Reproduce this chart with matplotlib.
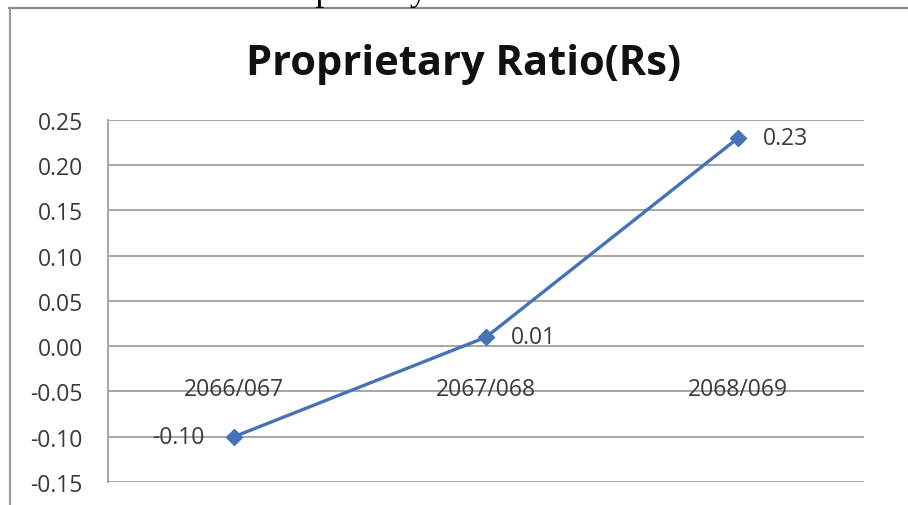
import matplotlib
matplotlib.use("Agg")
import matplotlib.pyplot as plt
from matplotlib.lines import Line2D

# Proprietary ratio by fiscal year
years  = ["2066/067", "2067/068", "2068/069"]
ratio  = [-0.10, 0.01, 0.23]
yticks = [-0.15, -0.10, -0.05, 0.00, 0.05, 0.10, 0.15, 0.20, 0.25]

BLUE  = "#4673b5"
GRID  = "#a6a6a6"
TEXT  = "#3a3a3a"
FONT  = "Open Sans"

fig = plt.figure(figsize=(9.08, 5.06), dpi=100)
ax = fig.add_axes([0.1189, 0.0455, 0.8326, 0.7154])

x = list(range(len(years)))
ax.plot(x, ratio, color=BLUE, lw=2.4, marker="D", ms=8.5,
        markerfacecolor=BLUE, markeredgecolor=BLUE, zorder=3)

ax.set_xlim(-0.5, len(years) - 0.5)
ax.set_ylim(yticks[0], yticks[-1])
ax.set_yticks(yticks)
ax.set_yticklabels([f"{v:.2f}" for v in yticks], fontsize=16.5,
                   family=FONT, color=TEXT)
ax.set_xticks([])
ax.tick_params(axis="y", length=0, pad=18)
ax.grid(axis="y", color=GRID, lw=1.4)
ax.set_axisbelow(True)
for side in ["top", "right", "bottom"]:
    ax.spines[side].set_visible(False)
ax.spines["left"].set_color(GRID)
ax.spines["left"].set_linewidth(1.4)

# category labels sit below the zero line, crossing the -0.05 gridline
for xi, lab in zip(x, years):
    ax.annotate(lab, xy=(xi, 0), xytext=(0, -31), textcoords="offset points",
                ha="center", va="center", fontsize=16.5, family=FONT,
                color=TEXT)

# value labels
for xi, v in zip(x, ratio):
    if v < 0:
        off, ha = -21, "right"
    else:
        off, ha = 18, "left"
    ax.annotate(f"{v:.2f}", xy=(xi, v), xytext=(off, 0),
                textcoords="offset points", ha=ha, va="center",
                fontsize=16.5, family=FONT, color=TEXT)

fig.text(0.511, 0.872, "Proprietary Ratio(Rs)", ha="center", va="center",
         fontsize=30, fontweight="bold", family=FONT, color="#111111")

# chart frame and the caption line cut off above it
fy = 1 - 9 / 506
fig.add_artist(Line2D([9 / 908, 1], [fy, fy], color="#8c8c8c", lw=1.6,
                      transform=fig.transFigure))
fig.add_artist(Line2D([10 / 908, 10 / 908], [0, fy], color="#9a9a9a", lw=1.6,
                      transform=fig.transFigure))
fig.text(265 / 908, 1.0, "Proprietary Ratio", ha="left", va="baseline",
         fontsize=26, family="Liberation Serif", color="black")

fig.savefig("out.png", dpi=100)
